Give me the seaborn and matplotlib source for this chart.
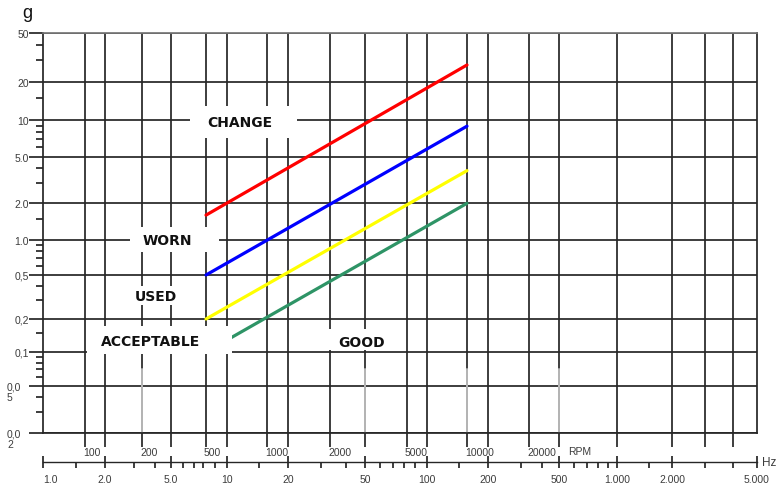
import numpy as np
import pandas as pd
import matplotlib
matplotlib.use("Agg")
import matplotlib.pyplot as plt
from matplotlib.transforms import ScaledTranslation
from matplotlib.patches import Rectangle
import seaborn as sns

# ---------------- data ----------------
rpm_range = [500, 10000]            # start / end of the boundary lines (RPM)
change_g = [1.6, 27.6]              # red   : CHANGE / WORN boundary
worn_g = [0.5, 8.9]                 # blue  : WORN / USED boundary
used_g = [0.2, 3.8]                 # yellow: USED / ACCEPTABLE boundary
acceptable_g = [0.1, 2.0]           # green : ACCEPTABLE / GOOD boundary
boundary_names = ["change", "worn", "used", "acceptable"]
boundary_colors = ["#ff0000", "#0000ff", "#ffff00", "#2e9466"]

zone_labels = ["CHANGE", "WORN", "USED", "ACCEPTABLE", "GOOD"]

rpm_ticks = [100, 200, 500, 1000, 2000, 5000, 10000, 20000]
hz_ticks = [1, 2, 5, 10, 20, 50, 100, 200, 500, 1000, 2000, 5000]
hz_tick_labels = ["1.0", "2.0", "5.0", "10", "20", "50", "100", "200", "500",
                  "1.000", "2.000", "5.000"]
hz_minor = [1.5, 3, 4, 6, 7, 8, 9, 15, 30, 40, 60, 70, 80, 90, 150, 300, 400,
            600, 700, 800, 900, 1500, 3000, 4000]
g_ticks = [0.02, 0.05, 0.1, 0.2, 0.5, 1, 2, 5, 10, 20, 50]
g_tick_labels = ["0,0\n2", "0,0\n5", "0,1", "0,2", "0,5", "1.0", "2.0", "5.0",
                 "10", "20", "50"]
g_minor = [0.03, 0.04, 0.06, 0.07, 0.08, 0.09, 0.15, 0.3, 0.4, 0.6, 0.7, 0.8,
           0.9, 1.5, 3, 4, 6, 7, 8, 9, 15, 30, 40]
extra_hz_grid = [3000, 4000]
gray_grid_hz = [200 / 60, 50, 10000 / 60, 500]

# ---------------- scale calibration (reference chart is not exactly log) ----
cal_hz = np.array([0.01, 1, 100 / 60, 2, 200 / 60, 5, 500 / 60, 10, 1000 / 60, 20,
                   2000 / 60, 50, 5000 / 60, 100, 10000 / 60, 200, 20000 / 60, 500,
                   1000, 2000, 3000, 4000, 5000, 500000])
cal_xpx = np.array([43 - 386, 43, 85, 105, 142, 171, 206, 227, 267, 288, 330, 365,
                    407, 427, 467, 488, 529, 559, 617, 672, 705, 733, 757,
                    757 + 386], dtype=float)
cal_g = np.array([1e-4, 0.02, 0.05, 0.1, 0.2, 0.5, 1, 2, 5, 10, 20, 50, 5000])
cal_ypx = np.array([704.8, 434, 387, 353, 320, 276, 241, 204.3, 157.7, 121, 83.3,
                    34, -201.4])
log_hz = np.log10(cal_hz)
log_g = np.log10(cal_g)


def fwd_x(v):
    return np.interp(np.log10(np.clip(v, 1e-12, None)), log_hz, cal_xpx)


def inv_x(p):
    return 10 ** np.interp(p, cal_xpx, log_hz)


def fwd_y(v):
    return -np.interp(np.log10(np.clip(v, 1e-12, None)), log_g, cal_ypx)


def inv_y(p):
    return 10 ** np.interp(p, -cal_ypx, log_g)


# ---------------- table for seaborn ----------------
values = [change_g, worn_g, used_g, acceptable_g]
df = pd.DataFrame({
    "hz": [r / 60 for _ in boundary_names for r in rpm_range],
    "g": [v for vals in values for v in vals],
    "boundary": [n for n in boundary_names for _ in rpm_range],
})

sns.set_style("white")
plt.rcParams["font.family"] = ["Liberation Sans", "DejaVu Sans"]

W, H = 780, 489
fig = plt.figure(figsize=(W / 100, H / 100), dpi=100)
ax = fig.add_axes([43 / W, 1 - 434 / H, 714 / W, 400 / H])

sns.lineplot(data=df, x="hz", y="g", hue="boundary", hue_order=boundary_names,
             palette=dict(zip(boundary_names, boundary_colors)), linewidth=2.3,
             legend=False, ax=ax, zorder=2)

ax.set_xscale("function", functions=(fwd_x, inv_x))
ax.set_yscale("function", functions=(fwd_y, inv_y))
ax.set_xlim(1, 5000)
ax.set_ylim(0.02, 50)
ax.set_xlabel("")
ax.set_ylabel("")

gridc = "#262626"
labc = "#3c3c3c"
lw = 1.25
for s in ax.spines.values():
    s.set_color(gridc)
    s.set_linewidth(lw)
ax.spines["top"].set_color("#777777")

# x: vertical grid lines at RPM and Hz positions, RPM labels only
x_grid = sorted(set([r / 60 for r in rpm_ticks] + hz_ticks[1:-1] + extra_hz_grid))
rpm_pos = [r / 60 for r in rpm_ticks]
x_labels = []
for x in x_grid:
    match = [r for r, p in zip(rpm_ticks, rpm_pos) if abs(p - x) < 1e-9]
    x_labels.append(str(match[0]) if match else "")
ax.set_xticks(x_grid)
ax.set_xticklabels(x_labels)
ax.tick_params(axis="x", which="major", bottom=True, direction="out", length=10,
               width=lw, color=gridc, pad=0, labelsize=7.5, labelcolor=labc)
for lab in ax.get_xticklabels():
    lab.set_ha("left")
    lab.set_transform(lab.get_transform() +
                      ScaledTranslation(-2 / 100, 0, fig.dpi_scale_trans))

# y ticks
ax.set_yticks(g_ticks)
ax.set_yticklabels(["" if "\n" in t else t for t in g_tick_labels])
ax.set_yticks(g_minor, minor=True)
ax.tick_params(axis="y", which="major", left=True, direction="out", length=10,
               width=lw, color=gridc, pad=0, labelsize=7.5, labelcolor=labc)
ax.tick_params(axis="y", which="minor", left=True, direction="out", length=5,
               width=lw, color=gridc)
ytr = ax.get_yaxis_transform()
for v, t in zip(g_ticks, g_tick_labels):
    if "\n" in t:
        ax.text(-36 / 714, v, t,
                transform=ytr + ScaledTranslation(0, -6 / 100, fig.dpi_scale_trans),
                ha="left", va="center", fontsize=7.5, color=labc, linespacing=1.1,
                multialignment="left", clip_on=False)

ax.grid(True, which="major", axis="both", color=gridc, linewidth=lw)
ax.set_axisbelow(True)

# lighter lower parts of some grid lines, as in the reference
for x in gray_grid_hz:
    ax.axvline(x, ymin=0, ymax=0.16, color="#b8b8b8", linewidth=1.4, zorder=1)
for tick, x in zip(ax.xaxis.get_major_ticks(), x_grid):
    if any(abs(x - gx) < 1e-9 for gx in gray_grid_hz):
        tick.tick1line.set_color("#b8b8b8")

# zone labels on white backgrounds (pixel boxes as in the reference)
label_px = {"CHANGE": (240, 123), "WORN": (167, 241), "USED": (156, 297),
            "ACCEPTABLE": (151, 342), "GOOD": (362, 343)}
label_box = {"CHANGE": (190, 107, 297, 139), "WORN": (130, 228, 219, 253),
             "USED": (130, 287, 182, 306), "ACCEPTABLE": (87, 327, 232, 355),
             "GOOD": (326, 330, 400, 351)}
for name in zone_labels:
    x0, y0, x1, y1 = label_box[name]
    ax.add_patch(Rectangle((x0 / W, 1 - y1 / H), (x1 - x0) / W, (y1 - y0) / H,
                           transform=fig.transFigure, fc="white", ec="none",
                           zorder=4, clip_on=False))
    px, py = label_px[name]
    ax.text(px / W, 1 - py / H, name, transform=fig.transFigure, ha="center",
            va="center", fontsize=10, fontweight="bold", family="DejaVu Sans",
            color="#111111", zorder=5)

# Hz axis below
ax2 = fig.add_axes([43 / W, 1 - 463 / H, 714 / W, 0.0005])
ax2.patch.set_alpha(0)
for side in ["left", "right", "top"]:
    ax2.spines[side].set_visible(False)
ax2.spines["bottom"].set_color(gridc)
ax2.spines["bottom"].set_linewidth(1.0)
ax2.set_xscale("function", functions=(fwd_x, inv_x))
ax2.set_xlim(1, 5000)
ax2.set_yticks([])
ax2.set_xticks(hz_ticks)
ax2.set_xticklabels(hz_tick_labels)
ax2.set_xticks(hz_minor, minor=True)
ax2.tick_params(axis="x", which="major", bottom=True, direction="inout", length=9,
                width=lw, color=gridc, pad=4.5, labelsize=7.5, labelcolor=labc)
ax2.tick_params(axis="x", which="minor", bottom=True, direction="out", length=4,
                width=lw, color=gridc)
ax2.get_xticklabels()[0].set_ha("left")

fig.text(762 / W, 1 - 463 / H, "Hz", ha="left", va="center", fontsize=8.5, color=labc)
fig.text(568 / W, 1 - 452 / H, "RPM", ha="left", va="center", fontsize=7.5, color=labc)
fig.text(27 / W, 1 - 13 / H, "g", ha="center", va="center", fontsize=13, color="#111111")

fig.savefig("out.png", dpi=100)
